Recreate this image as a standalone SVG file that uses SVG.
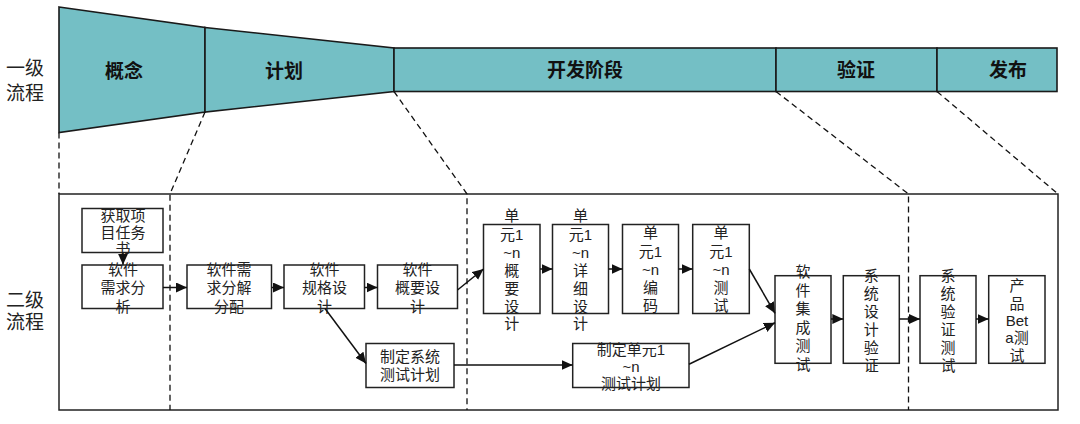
<svg xmlns="http://www.w3.org/2000/svg" width="1080" height="424" viewBox="0 0 1080 424">
<style>
.stage{fill:#74BFC5;stroke:#1a1a1a;stroke-width:1.6}
.stl{font-family:"Liberation Sans","Noto Sans CJK SC",sans-serif;font-weight:bold;font-size:19px;fill:#111;text-anchor:middle}
.side{font-family:"Liberation Serif","Noto Sans CJK SC",serif;font-size:19px;fill:#222;text-anchor:middle}
.box{fill:#fff;stroke:#222;stroke-width:1.5}
.t{font-family:"Liberation Sans","Noto Sans CJK SC",sans-serif;font-size:15px;fill:#222;text-anchor:middle}
.dash{fill:none;stroke:#111;stroke-width:1.3;stroke-dasharray:6,4}
.con{fill:none;stroke:#111;stroke-width:1.5}
</style>
<defs>
<marker id="arr" markerUnits="userSpaceOnUse" markerWidth="12" markerHeight="11" refX="11" refY="5" orient="auto">
<path d="M0,0 L11,5 L0,10 z" fill="#111"/>
</marker>
</defs>
<rect width="1080" height="424" fill="#fff"/>

<g id="level1">
<text class="side" x="25" y="75">一级</text>
<text class="side" x="25" y="100">流程</text>
</g>
<g id="level2">
<text class="side" x="25" y="307">二级</text>
<text class="side" x="25" y="329">流程</text>
</g>

<g id="stage-concept">
<polygon class="stage" points="59,7 205,27.5 205,112 59,132.5"/>
<text class="stl" x="124" y="78">概念</text>
</g>
<g id="stage-plan">
<polygon class="stage" points="205,27.5 394,48 394,91.5 205,112"/>
<text class="stl" x="284" y="78">计划</text>
</g>
<g id="stage-dev">
<rect class="stage" x="394" y="48" width="382" height="43.5"/>
<text class="stl" x="585" y="77">开发阶段</text>
</g>
<g id="stage-verify">
<rect class="stage" x="776" y="48" width="161" height="43.5"/>
<text class="stl" x="856" y="77">验证</text>
</g>
<g id="stage-release">
<rect class="stage" x="937" y="48" width="120" height="43.5"/>
<text class="stl" x="1008" y="77">发布</text>
</g>

<g id="frame">
<rect x="59" y="194" width="999" height="216" fill="none" stroke="#222" stroke-width="1.5"/>
</g>

<g id="guides">
<path class="dash" d="M59,132.5 L59,194"/>
<path class="dash" d="M205,112 L170,194 L170,410"/>
<path class="dash" d="M394,91.5 L467,194 L467,410"/>
<path class="dash" d="M776,91.5 L908.5,194 L908.5,410"/>
<path class="dash" d="M937,91.5 L1058,194"/>
</g>

<g id="n1">
<rect class="box" x="82" y="208.5" width="81" height="44"/>
<text class="t" x="123" y="220.5">获取项</text>
<text class="t" x="123" y="238">目任务</text>
<text class="t" x="123" y="254">书</text>
</g>
<g id="n2">
<rect class="box" x="82" y="265" width="81" height="43.5"/>
<text class="t" x="123" y="275">软件</text>
<text class="t" x="123" y="293">需求分</text>
<text class="t" x="123" y="311.5">析</text>
</g>
<g id="n3">
<rect class="box" x="187" y="265" width="84.5" height="43.5"/>
<text class="t" x="229" y="275">软件需</text>
<text class="t" x="229" y="293">求分解</text>
<text class="t" x="229" y="311.5">分配</text>
</g>
<g id="n4">
<rect class="box" x="284" y="265" width="80.5" height="43.5"/>
<text class="t" x="324.5" y="275">软件</text>
<text class="t" x="324.5" y="293">规格设</text>
<text class="t" x="324.5" y="311.5">计</text>
</g>
<g id="n5">
<rect class="box" x="377.5" y="265" width="80" height="43.5"/>
<text class="t" x="417.5" y="275">软件</text>
<text class="t" x="417.5" y="293">概要设</text>
<text class="t" x="417.5" y="311.5">计</text>
</g>
<g id="n6">
<rect class="box" x="366" y="343.5" width="88" height="44"/>
<text class="t" x="410" y="362">制定系统</text>
<text class="t" x="410" y="380">测试计划</text>
</g>
<g id="n7">
<rect class="box" x="483.5" y="224.5" width="56.5" height="89"/>
<text class="t" x="511.7" y="220.5">单</text>
<text class="t" x="511.7" y="239.5">元1</text>
<text class="t" x="511.7" y="257.5">~n</text>
<text class="t" x="511.7" y="275.5">概</text>
<text class="t" x="511.7" y="293.5">要</text>
<text class="t" x="511.7" y="311.5">设</text>
<text class="t" x="511.7" y="329">计</text>
</g>
<g id="n8">
<rect class="box" x="552.5" y="224.5" width="56" height="89"/>
<text class="t" x="580.5" y="220.5">单</text>
<text class="t" x="580.5" y="239.5">元1</text>
<text class="t" x="580.5" y="257.5">~n</text>
<text class="t" x="580.5" y="275.5">详</text>
<text class="t" x="580.5" y="293.5">细</text>
<text class="t" x="580.5" y="311.5">设</text>
<text class="t" x="580.5" y="329">计</text>
</g>
<g id="n9">
<rect class="box" x="622.5" y="224.5" width="56" height="89"/>
<text class="t" x="650.5" y="238">单</text>
<text class="t" x="650.5" y="257">元1</text>
<text class="t" x="650.5" y="275">~n</text>
<text class="t" x="650.5" y="293">编</text>
<text class="t" x="650.5" y="310.5">码</text>
</g>
<g id="n10">
<rect class="box" x="692.7" y="224.5" width="56.6" height="89"/>
<text class="t" x="721" y="238">单</text>
<text class="t" x="721" y="257">元1</text>
<text class="t" x="721" y="275">~n</text>
<text class="t" x="721" y="293">测</text>
<text class="t" x="721" y="310.5">试</text>
</g>
<g id="n11">
<rect class="box" x="572.7" y="343.5" width="116.3" height="44"/>
<text class="t" x="631" y="355">制定单元1</text>
<text class="t" x="631" y="371.5">~n</text>
<text class="t" x="631" y="388.5">测试计划</text>
</g>
<g id="n12">
<rect class="box" x="775" y="275.7" width="56" height="87.6"/>
<text class="t" x="803" y="277">软</text>
<text class="t" x="803" y="295.5">件</text>
<text class="t" x="803" y="314">集</text>
<text class="t" x="803" y="332.5">成</text>
<text class="t" x="803" y="351">测</text>
<text class="t" x="803" y="369.5">试</text>
</g>
<g id="n13">
<rect class="box" x="843.3" y="275.7" width="56" height="87.6"/>
<text class="t" x="871.3" y="280.5">系</text>
<text class="t" x="871.3" y="299">统</text>
<text class="t" x="871.3" y="317">设</text>
<text class="t" x="871.3" y="335">计</text>
<text class="t" x="871.3" y="352.5">验</text>
<text class="t" x="871.3" y="370.5">证</text>
</g>
<g id="n14">
<rect class="box" x="920" y="275.7" width="56" height="87.6"/>
<text class="t" x="948" y="280.5">系</text>
<text class="t" x="948" y="299">统</text>
<text class="t" x="948" y="317">验</text>
<text class="t" x="948" y="335">证</text>
<text class="t" x="948" y="352.5">测</text>
<text class="t" x="948" y="370.5">试</text>
</g>
<g id="n15">
<rect class="box" x="988.7" y="275.7" width="56.3" height="87.6"/>
<text class="t" x="1017" y="290.5">产</text>
<text class="t" x="1017" y="308.5">品</text>
<text class="t" x="1017" y="326">Bet</text>
<text class="t" x="1017" y="343">a测</text>
<text class="t" x="1017" y="360.5">试</text>
</g>

<g id="connectors">
<path class="con" marker-end="url(#arr)" d="M123,252.7 L123,264.7"/>
<path class="con" marker-end="url(#arr)" d="M163,287.5 L187,287.5"/>
<path class="con" marker-end="url(#arr)" d="M271.5,287.5 L284,287.5"/>
<path class="con" marker-end="url(#arr)" d="M364.5,287.5 L377.5,287.5"/>
<path class="con" marker-end="url(#arr)" d="M457.5,290 L483.5,269"/>
<path class="con" marker-end="url(#arr)" d="M540,269 L552.5,269"/>
<path class="con" marker-end="url(#arr)" d="M608.5,269 L622.5,269"/>
<path class="con" marker-end="url(#arr)" d="M678.5,269 L692.7,269"/>
<path class="con" marker-end="url(#arr)" d="M749.3,269 L775,313.3"/>
<path class="con" marker-end="url(#arr)" d="M325,308.5 L366,363.5"/>
<path class="con" marker-end="url(#arr)" d="M454,365 L572.7,365"/>
<path class="con" marker-end="url(#arr)" d="M689,364.3 L775,322.7"/>
<path class="con" marker-end="url(#arr)" d="M831,319 L843.3,319"/>
<path class="con" marker-end="url(#arr)" d="M899.3,319 L920,319"/>
<path class="con" marker-end="url(#arr)" d="M976,319 L988.7,319"/>
</g>
</svg>
